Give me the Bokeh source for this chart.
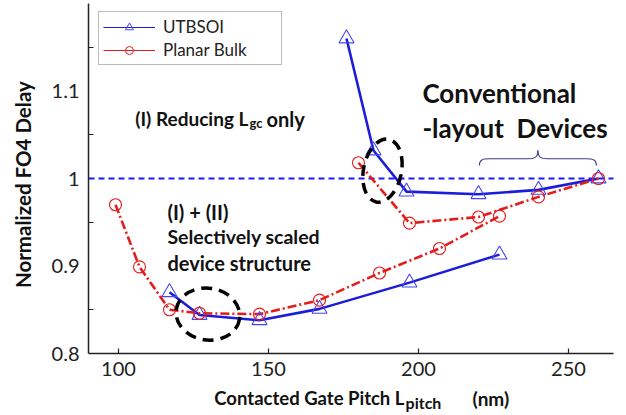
import math
from bokeh.plotting import figure
from bokeh.models import (Label, FixedTicker, CustomJSTickFormatter, Legend,
                          LegendItem, Range1d)
from bokeh.embed import file_html
from bokeh.resources import INLINE

# ---- data ----
ut_conv_x = [176, 185, 196, 220, 240, 260]
ut_conv_y = [1.160, 1.032, 0.985, 0.982, 0.987, 1.000]
ut_scal_x = [117, 127, 147, 167, 197, 227]
ut_scal_y = [0.870, 0.844, 0.838, 0.851, 0.881, 0.913]
pb_conv_x = [180, 197, 220, 240, 260]
pb_conv_y = [1.018, 0.949, 0.956, 0.979, 1.000]
pb_scal_x = [99, 107, 117, 127, 147, 167, 187, 207, 227]
pb_scal_y = [0.970, 0.899, 0.850, 0.846, 0.845, 0.861, 0.892, 0.920, 0.957]

x_ticks = [100, 150, 200, 250]
y_ticks = [0.8, 0.9, 1.0, 1.1]
y_minor = [0.85, 0.95, 1.05, 1.15]
x_min, x_max = 90, 265          # axis extent
y_min, y_max = 0.8, 1.2
reference_level = 1.0

BLUE = "#1c1cdc"
BLUE_M = "#4646f0"
RED = "#e41c1c"
FONT = "Lato"
TXT = "#111111"
NAN = float("nan")

W, H = 626, 415
PX_X = 3.0        # pixels per x unit
PX_Y = 875.0      # pixels per y unit
LEFT, BOTTOM = 88, 62   # where the axes sit on the canvas

x_lo = x_min - LEFT / PX_X
x_hi = x_lo + W / PX_X
y_lo = y_min - BOTTOM / PX_Y
y_hi = y_lo + H / PX_Y

p = figure(width=W, height=H, x_range=Range1d(x_lo, x_hi), y_range=Range1d(y_lo, y_hi),
           output_backend="svg", toolbar_location=None, title=None,
           min_border=0, min_border_left=0, min_border_right=0,
           min_border_top=0, min_border_bottom=0)
p.outline_line_color = None
p.grid.visible = False
p.background_fill_color = "white"
p.border_fill_color = "white"

# axes pinned at the data origin of the chart
p.xaxis.fixed_location = y_min
p.yaxis.fixed_location = x_min
p.xaxis.bounds = (x_min, x_max)
p.yaxis.bounds = (y_min, y_max)
p.xaxis.ticker = FixedTicker(ticks=x_ticks)
p.yaxis.ticker = FixedTicker(ticks=y_ticks, minor_ticks=y_minor)
p.yaxis.formatter = CustomJSTickFormatter(code="return tick.toString();")
for ax in (p.xaxis[0], p.yaxis[0]):
    ax.axis_line_color = "#222222"
    ax.axis_line_width = 1.5
    ax.major_label_text_font = FONT
    ax.major_label_text_font_size = "20px"
    ax.major_label_text_color = "#222222"
    ax.major_tick_out = 0
    ax.minor_tick_out = 0
    ax.major_tick_line_color = "#222222"
    ax.minor_tick_line_color = "#222222"
    ax.major_tick_line_width = 1.2
    ax.minor_tick_line_width = 1.2
p.xaxis.major_tick_in = 5
p.xaxis.minor_tick_line_color = None
p.xaxis.major_label_standoff = 8
p.yaxis.major_tick_in = 0
p.yaxis.minor_tick_in = 5
p.yaxis.major_label_standoff = 9

# reference line at 1.0
p.line([x_min, x_max], [reference_level, reference_level], line_color="#1a1aff",
       line_width=2, line_dash="6 4")

# series
for xs, ys in ((ut_conv_x, ut_conv_y), (ut_scal_x, ut_scal_y)):
    p.line(xs, ys, line_color=BLUE, line_width=2.6)
for xs, ys in ((pb_conv_x, pb_conv_y), (pb_scal_x, pb_scal_y)):
    p.line(xs, ys, line_color=RED, line_width=2.6, line_dash="9 3 2 3")
for xs, ys in ((ut_conv_x, ut_conv_y), (ut_scal_x, ut_scal_y)):
    p.scatter(xs, ys, marker="triangle", size=15, line_color=BLUE_M, fill_color=None, line_width=1.1)
for xs, ys in ((pb_conv_x, pb_conv_y), (pb_scal_x, pb_scal_y)):
    p.scatter(xs, ys, marker="circle", size=12, line_color=RED, fill_color=None, line_width=1.1)

# dashed ellipses
p.ellipse(x=[188, 129.8], y=[1.009, 0.845], width=[38, 64], height=[64, 52],
          width_units="screen", height_units="screen", angle=[-0.2, -0.15],
          fill_color=None, line_color="black", line_width=3.5, line_dash="11 7")

# curly brace above conventional devices
bx0, bx1, bxm = 220.3, 259.3, 239.8
by0, by1, byp = 1.015, 1.0225, 1.032
BR = "#38388c"
p.bezier(x0=[bx0, bx1], y0=[by0, by0], x1=[bx0 + 3.5, bx1 - 3.5], y1=[by1, by1],
         cx0=[bx0, bx1], cy0=[by1 - 0.001, by1 - 0.001], cx1=[bx0 + 1.0, bx1 - 1.0], cy1=[by1, by1],
         line_color=BR, line_width=1.1)
p.segment(x0=[bx0 + 3.5, bx1 - 3.5], y0=[by1, by1], x1=[bxm - 3.0, bxm + 3.0], y1=[by1, by1],
          line_color=BR, line_width=1.1)
p.bezier(x0=[bxm - 3.0, bxm + 3.0], y0=[by1, by1], x1=[bxm, bxm], y1=[byp, byp],
         cx0=[bxm - 1.0, bxm + 1.0], cy0=[by1, by1], cx1=[bxm, bxm], cy1=[by1 + 0.002, by1 + 0.002],
         line_color=BR, line_width=1.1)

# legend (thin sample lines; renderers hold a single NaN point so nothing is plotted)
lg_ut_l = p.line([NAN], [NAN], line_color=BLUE, line_width=1)
lg_ut_m = p.scatter([NAN], [NAN], marker="triangle", size=16, line_color=BLUE_M, fill_color=None)
lg_pb_l = p.line([NAN], [NAN], line_color=RED, line_width=1)
lg_pb_m = p.scatter([NAN], [NAN], marker="circle", size=12, line_color=RED, fill_color=None)
legend = Legend(items=[LegendItem(label="UTBSOI", renderers=[lg_ut_l, lg_ut_m]),
                       LegendItem(label="Planar Bulk", renderers=[lg_pb_l, lg_pb_m])],
                location=(98, 350), padding=4, spacing=2, label_height=20, glyph_height=20,
                glyph_width=52, label_standoff=8, label_width=114, margin=0,
                label_text_font=FONT, label_text_font_size="17px", label_text_color="#222222",
                border_line_color="#777777", border_line_width=1, background_fill_color="white",
                background_fill_alpha=1.0)
p.add_layout(legend)

SHIFT = 9  # baseline correction in pixels


def lab(x, y, text, size, bold=True, xoff=0, yoff=0, angle=0.0, align="left", baseline="alphabetic"):
    p.add_layout(Label(x=x, y=y, text=text, x_offset=xoff, y_offset=yoff, angle=angle,
                       text_font=FONT, text_font_size=size,
                       text_font_style="bold" if bold else "normal",
                       text_color=TXT, text_baseline=baseline, text_align=align))


# annotations
lab(143.3, 1.058, "(I) Reducing L", "19px", yoff=SHIFT, align="right")
lab(143.7, 1.058, "gc", "13px", yoff=SHIFT - 4)
lab(149.3, 1.058, "only", "20px", yoff=SHIFT)
lab(201.3, 1.087, "Conventional", "26px", yoff=SHIFT)
lab(201.3, 1.047, "-layout\u00a0\u00a0Devices", "26px", yoff=SHIFT)
lab(116.3, 0.951, "(I) + (II)", "20px", yoff=SHIFT)
lab(116.3, 0.923, "Selectively scaled", "19.5px", yoff=SHIFT)
lab(116.3, 0.893, "device structure", "20px", yoff=SHIFT)

# axis titles
lab(195.3, 0.7383, "Contacted Gate Pitch L", "18.5px", yoff=SHIFT, align="right")
lab(195.7, 0.7383, "pitch", "16px", yoff=SHIFT - 4)
lab(218.0, 0.7383, "(nm)", "19px", yoff=SHIFT)
lab(68, 0.993, "Normalized FO4 Delay", "20.5px", angle=math.pi / 2, align="center", baseline="middle")

open("out.html", "w").write(file_html(p, INLINE))
